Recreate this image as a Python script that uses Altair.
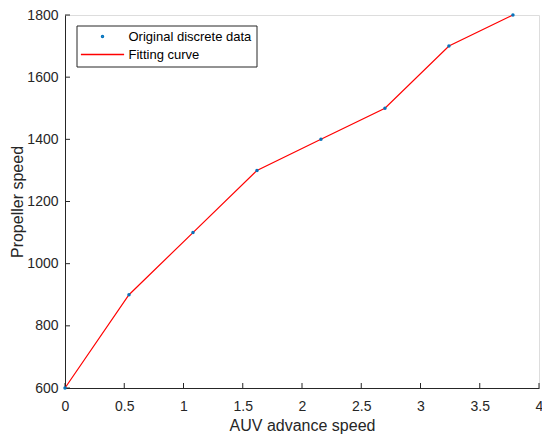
import altair as alt
import pandas as pd

# Data
auv_speed = [0.0, 0.54, 1.08, 1.62, 2.16, 2.70, 3.24, 3.78]
prop_speed = [600, 900, 1100, 1300, 1400, 1500, 1700, 1800]
series_names = ["Original discrete data", "Fitting curve"]
x_ticks = [0, 0.5, 1, 1.5, 2, 2.5, 3, 3.5, 4]
y_ticks = [600, 800, 1000, 1200, 1400, 1600, 1800]

W, H = 474, 373
TICK = 5

df = pd.DataFrame({"x": auv_speed, "y": prop_speed, "series": series_names[0]})
xt = pd.DataFrame({"x": x_ticks})
yt = pd.DataFrame({"y": y_ticks})

FONT = "Liberation Sans"
AX = "#262626"

xs = alt.Scale(domain=[0, 4], nice=False, zero=False)
ys = alt.Scale(domain=[600, 1800], nice=False, zero=False)

main_x = alt.Axis(values=x_ticks, format="~g", ticks=False, tickSize=0, grid=False,
                  domain=True, domainColor=AX, domainWidth=1, labelFlush=False,
                  labelFont=FONT, labelFontSize=14, labelColor=AX, labelPadding=11,
                  title="AUV advance speed", titleFont=FONT, titleFontSize=16,
                  titleFontWeight="normal", titleColor=AX, titlePadding=4, orient="bottom")
main_y = alt.Axis(values=y_ticks, format="d", ticks=False, tickSize=0, grid=False,
                  domain=True, domainColor=AX, domainWidth=1, labelFlush=False,
                  labelFont=FONT, labelFontSize=14, labelColor=AX, labelPadding=7,
                  title="Propeller speed", titleFont=FONT, titleFontSize=16,
                  titleFontWeight="normal", titleColor=AX, titlePadding=1, orient="left")

line = alt.Chart(df).mark_line(color="#FF0000", strokeWidth=1.2).encode(
    x=alt.X("x:Q", scale=xs, axis=main_x),
    y=alt.Y("y:Q", scale=ys, axis=main_y),
)

# inward ticks (MATLAB style) at the tick values, through the shared scales
xtick = alt.Chart(xt).mark_rule(color=AX, strokeWidth=1).encode(
    x=alt.X("x:Q", scale=xs, axis=main_x),
    y=alt.value(H - TICK), y2=alt.value(H),
)
ytick = alt.Chart(yt).mark_rule(color=AX, strokeWidth=1).encode(
    y=alt.Y("y:Q", scale=ys, axis=main_y),
    x=alt.value(0), x2=alt.value(TICK),
)

legend = alt.Legend(
    orient="none", legendX=11.5, legendY=10.5, direction="vertical", title=None,
    padding=4.5, strokeColor=AX, fillColor="white", cornerRadius=0,
    labelFont=FONT, labelFontSize=13, labelColor="black", labelOffset=19.5,
    symbolOffset=15, rowPadding=4, symbolSize=4, symbolStrokeWidth=1.5,
    symbolOpacity=1,
)

points = alt.Chart(df).mark_point(filled=False, size=4, strokeWidth=1.5, opacity=1).encode(
    x=alt.X("x:Q", scale=xs, axis=main_x),
    y=alt.Y("y:Q", scale=ys, axis=main_y),
    color=alt.Color("series:N", scale=alt.Scale(domain=series_names, range=["#0072BD", "#FF0000"]),
                    legend=legend),
    shape=alt.Shape("series:N", scale=alt.Scale(domain=series_names, range=["circle", "M-21.6,0H21.6"]),
                    legend=legend),
)

chart = alt.layer(line, xtick, ytick, points).properties(
    width=W, height=H,
    autosize=alt.AutoSizeParams(type="none"),
    padding={"left": 57, "top": 7, "right": 3, "bottom": 51},
).configure_view(stroke="transparent", strokeWidth=0).configure(background="white")

chart.save("out.html", embed_options={"renderer": "svg", "actions": False})
